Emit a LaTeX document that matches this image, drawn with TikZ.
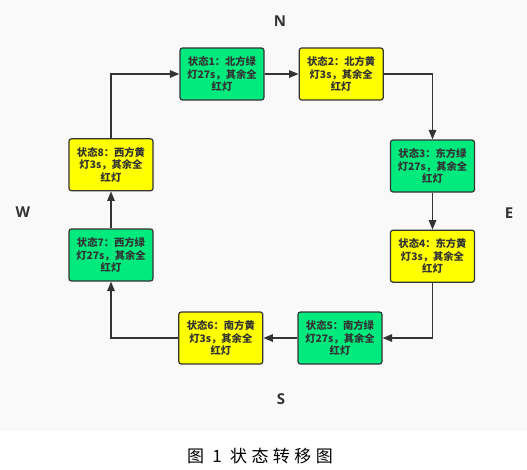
\documentclass[tikz,border=0pt]{standalone}
\usepackage{fontspec}
\usepackage{tikz}
\usetikzlibrary{arrows.meta, positioning}
\setsansfont{Open Sans}
\newfontfamily\cjk{Noto Sans CJK SC}
\definecolor{bggray}{HTML}{F9F9F9}
\definecolor{stategreen}{HTML}{00EA7E}
\definecolor{stateyellow}{HTML}{FFFF00}
\definecolor{darkline}{HTML}{333333}

\begin{document}
\begin{tikzpicture}[
    x=1pt, y=-1pt,
    node distance=34pt,
    block/.style={rectangle, draw=darkline, line width=1.2pt, rounded corners=2.5pt,
                  minimum width=84pt, minimum height=52pt, inner sep=0pt,
                  align=center, text=darkline,
                  font=\cjk\bfseries\fontsize{10.3}{12.5}\selectfont},
    greenblock/.style={block, fill=stategreen},
    yellowblock/.style={block, fill=stateyellow},
    arrow/.style={-{Triangle[length=9.5pt, width=7.5pt]}, line width=1.3pt, draw=darkline},
    dirlabel/.style={font=\sffamily\bfseries\fontsize{15}{18}\selectfont, text=darkline}
]
  \useasboundingbox (0,0) rectangle (527,469);
  \fill[bggray] (0,0) rectangle (527,431);

  \node[greenblock] (s1) at (222,74)
    {状态1：北方绿\\灯27s，其余全\\红灯};

  \node[yellowblock, right=of s1] (s2)
    {状态2：北方黄\\灯3s，其余全\\红灯};

  \node[greenblock] (s3) at (432.5,166)
    {状态3：东方绿\\灯27s，其余全\\红灯};

  \node[yellowblock, below=37pt of s3] (s4)
    {状态4：东方黄\\灯3s，其余全\\红灯};

  \node[greenblock] (s5) at (340,338)
    {状态5：南方绿\\灯27s，其余全\\红灯};

  \node[yellowblock, left=of s5] (s6)
    {状态6：南方黄\\灯3s，其余全\\红灯};

  \node[greenblock] (s7) at (111,255)
    {状态7：西方绿\\灯27s，其余全\\红灯};

  \node[yellowblock, above=37pt of s7] (s8)
    {状态8：西方黄\\灯3s，其余全\\红灯};

  \node[dirlabel] (north) at (280,21) {N};
  \node[dirlabel] (east) at (509,213) {E};
  \node[dirlabel] (south) at (281,399) {S};
  \node[dirlabel] (west) at (23,212) {W};

  \node[font=\cjk\fontsize{17}{19}\selectfont\addfontfeature{LetterSpace=26}] (caption)
    at (260,456) {图 1 状态转移图};

  \draw[arrow] (s1) -- (s2);
  \draw[arrow] (s2) -| (s3);
  \draw[arrow] (s3) -- (s4);
  \draw[arrow] (s4) |- (s5);
  \draw[arrow] (s5) -- (s6);
  \draw[arrow] (s6) -| (s7);
  \draw[arrow] (s7) -- (s8);
  \draw[arrow] (s8) |- (s1);
\end{tikzpicture}
\end{document}
